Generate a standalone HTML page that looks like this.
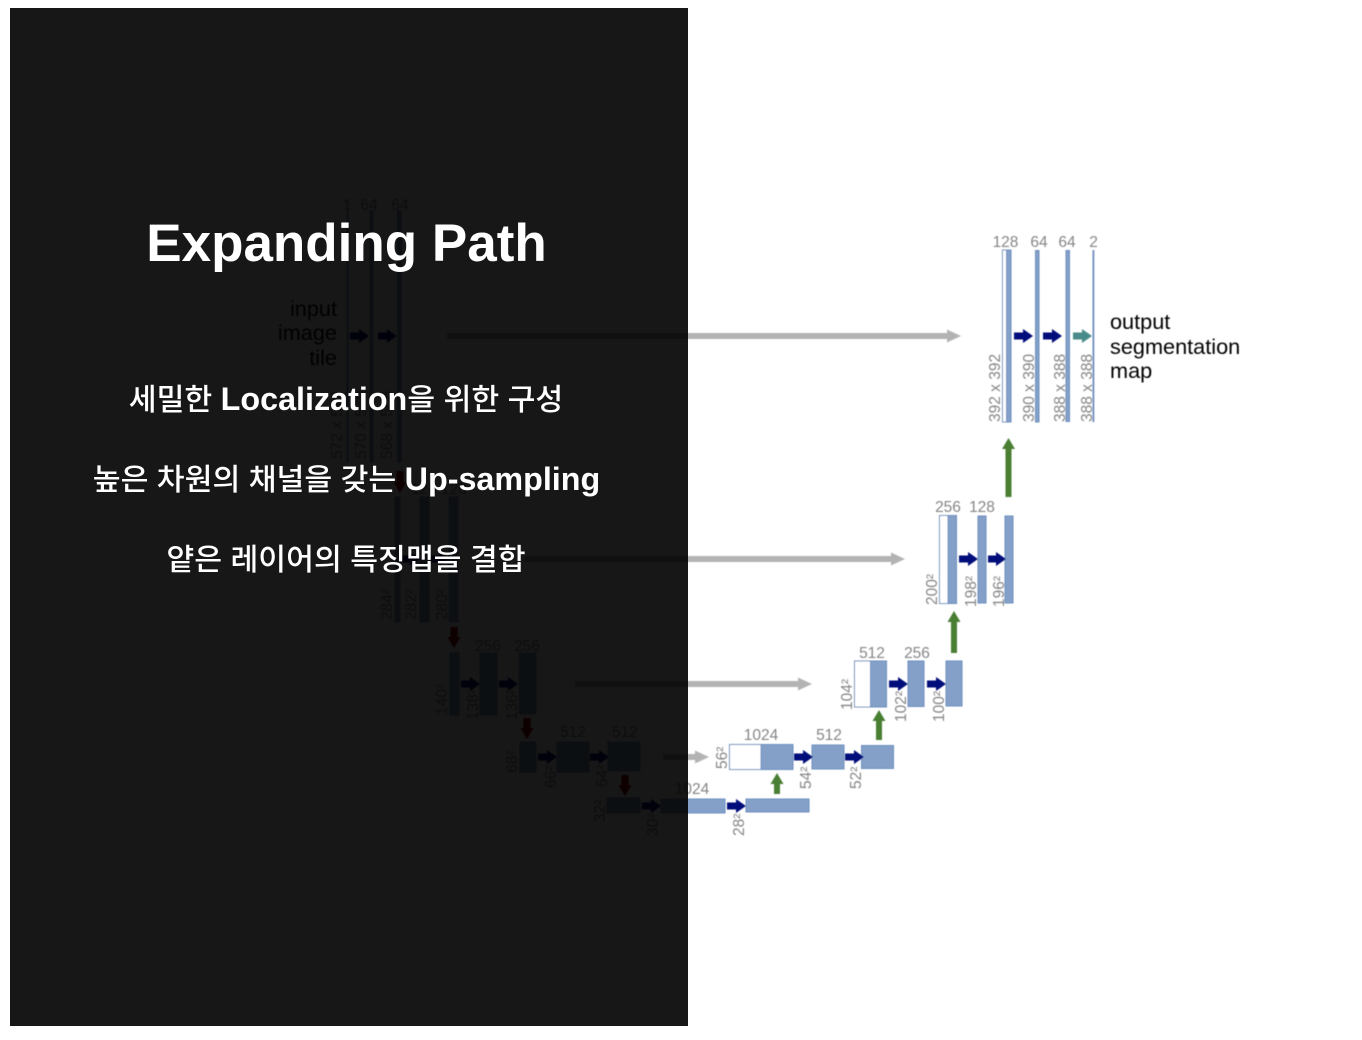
<!DOCTYPE html>
<html lang="ko">
<head>
<meta charset="utf-8">
<title>Expanding Path</title>
<style>
html,body{margin:0;padding:0;background:#fff;width:1362px;height:1040px;overflow:hidden}
svg{display:block;font-family:"Liberation Sans","Noto Sans CJK KR",sans-serif}
.b{fill:#84a0c9;stroke:#6d8dbe;stroke-width:1}
.w{fill:#fff;stroke:#6d8dbe;stroke-width:1}
.d{stroke-dasharray:2 2;stroke:#3f5f99}
.n{font-size:15.5px;fill:#858585;text-anchor:middle}
.r{font-size:15.5px;fill:#858585;text-anchor:start}
.k{font-size:21.7px;fill:#000}
.navy{stroke:#000a7a;stroke-width:7}
.green{stroke:#4a7f32;stroke-width:6}
.grey{stroke:#b3b3b3;stroke-width:6}
.red{stroke:#a00000;stroke-width:7}
.teal{stroke:#4a8a8a;stroke-width:7}
.h2{font-weight:500;font-size:30.25px;fill:#fff;text-anchor:middle}
.lat{font-weight:700;font-size:32.3px}
</style>
</head>
<body>
<svg width="1362" height="1040" viewBox="0 0 1362 1040" xmlns="http://www.w3.org/2000/svg">
<defs>
<marker id="hn" markerUnits="userSpaceOnUse" markerWidth="10" markerHeight="14" refX="0" refY="7" orient="auto"><path d="M0 0L10 7L0 14z" fill="#000a7a"/></marker>
<marker id="hg" markerUnits="userSpaceOnUse" markerWidth="11" markerHeight="14" refX="0" refY="7" orient="auto"><path d="M0 0.5L11 7L0 13.5z" fill="#4a7f32"/></marker>
<marker id="hy" markerUnits="userSpaceOnUse" markerWidth="14" markerHeight="14" refX="0" refY="7" orient="auto"><path d="M0 0.5L14 7L0 13.5z" fill="#b3b3b3"/></marker>
<marker id="hr" markerUnits="userSpaceOnUse" markerWidth="11" markerHeight="13" refX="0" refY="6.5" orient="auto"><path d="M0 0L11 6.5L0 13z" fill="#a00000"/></marker>
<marker id="ht" markerUnits="userSpaceOnUse" markerWidth="10" markerHeight="14" refX="0" refY="7" orient="auto"><path d="M0 0L10 7L0 14z" fill="#4a8a8a"/></marker>
<filter id="soft" x="0" y="0" width="100%" height="100%"><feGaussianBlur stdDeviation="0.6"/></filter>
</defs>

<g filter="url(#soft)">
  <!-- contracting path -->
  <g>
    <text class="n" x="347" y="210">1</text><text class="n" x="369" y="210">64</text><text class="n" x="400" y="210">64</text>
    <rect class="b" x="347" y="211" width="1" height="251"/><rect class="b" x="370" y="211" width="3" height="251"/><rect class="b d" x="397.5" y="211" width="4" height="251"/>
    <text class="k" x="337" y="316" text-anchor="end">input</text><text class="k" x="337" y="340" text-anchor="end">image</text><text class="k" x="337" y="365" text-anchor="end">tile</text>
    <line class="navy" x1="350" y1="336" x2="359" y2="336" marker-end="url(#hn)"/><line class="navy" x1="378" y1="336" x2="387" y2="336" marker-end="url(#hn)"/>
    <text class="r" transform="translate(342 459) rotate(-90)">572 x 572</text><text class="r" transform="translate(366 459) rotate(-90)">570 x 570</text><text class="r" transform="translate(392 459) rotate(-90)">568 x 568</text>
    <line class="red" x1="400" y1="471" x2="400" y2="482" marker-end="url(#hr)"/>
  </g>
  <g>
    <text class="n" x="424" y="494">128</text><text class="n" x="454" y="494">128</text>
    <rect class="b" x="395" y="497" width="5" height="125"/><rect class="b" x="420" y="497" width="9" height="125"/><rect class="b d" x="449" y="497" width="9" height="125"/>
    <line class="navy" x1="402" y1="559" x2="410" y2="559" marker-end="url(#hn)"/><line class="navy" x1="431" y1="559" x2="439" y2="559" marker-end="url(#hn)"/>
    <text class="r" transform="translate(392 620) rotate(-90)">284²</text><text class="r" transform="translate(416 620) rotate(-90)">282²</text><text class="r" transform="translate(447 620) rotate(-90)">280²</text>
    <line class="red" x1="454" y1="627" x2="454" y2="637" marker-end="url(#hr)"/>
  </g>
  <g>
    <text class="n" x="488" y="651">256</text><text class="n" x="527" y="651">256</text>
    <rect class="b" x="450" y="653" width="9" height="62"/><rect class="b" x="480" y="653" width="17" height="62"/><rect class="b d" x="519" y="653" width="17" height="61"/>
    <line class="navy" x1="461" y1="684" x2="470" y2="684" marker-end="url(#hn)"/><line class="navy" x1="499" y1="684" x2="508" y2="684" marker-end="url(#hn)"/>
    <text class="r" transform="translate(447 715) rotate(-90)">140²</text><text class="r" transform="translate(478 720) rotate(-90)">138²</text><text class="r" transform="translate(517 720) rotate(-90)">136²</text>
    <line class="red" x1="527" y1="718" x2="527" y2="728" marker-end="url(#hr)"/>
  </g>
  <g>
    <text class="n" x="573" y="737">512</text><text class="n" x="625" y="737">512</text>
    <rect class="b" x="520" y="742" width="16" height="30"/><rect class="b" x="557" y="742" width="32" height="30"/><rect class="b d" x="608" y="742" width="32" height="29"/>
    <line class="navy" x1="538" y1="757" x2="547" y2="757" marker-end="url(#hn)"/><line class="navy" x1="590" y1="757" x2="599" y2="757" marker-end="url(#hn)"/>
    <text class="r" transform="translate(517 773) rotate(-90)">68²</text><text class="r" transform="translate(556 788) rotate(-90)">66²</text><text class="r" transform="translate(607 787) rotate(-90)">64²</text>
    <line class="red" x1="625" y1="775" x2="625" y2="785" marker-end="url(#hr)"/>
  </g>
  <g>
    <text class="n" x="692" y="794">1024</text>
    <rect class="b" x="607" y="798" width="33" height="15"/><rect class="b" x="661" y="799" width="64" height="14"/><rect class="b" x="746" y="799" width="63" height="13"/>
    <line class="navy" x1="642" y1="806" x2="651" y2="806" marker-end="url(#hn)"/><line class="navy" x1="727" y1="806" x2="736" y2="806" marker-end="url(#hn)"/>
    <text class="r" transform="translate(605 822) rotate(-90)">32²</text><text class="r" transform="translate(658 836) rotate(-90)">30²</text><text class="r" transform="translate(744 836) rotate(-90)">28²</text>
  </g>

  <!-- skip connections -->
  <line class="grey" x1="447" y1="336" x2="947" y2="336" marker-end="url(#hy)"/>
  <line class="grey" x1="524" y1="559" x2="891" y2="559" marker-end="url(#hy)"/>
  <line class="grey" x1="575" y1="684" x2="798" y2="684" marker-end="url(#hy)"/>
  <line class="grey" x1="663" y1="757" x2="695" y2="757" marker-end="url(#hy)"/>

  <!-- expanding path -->
  <g>
    <line class="green" x1="777" y1="794" x2="777" y2="784" marker-end="url(#hg)"/>
    <text class="n" x="761" y="740">1024</text><text class="n" x="829" y="740">512</text>
    <rect class="w" x="729.5" y="744.5" width="32" height="25"/><rect class="b" x="761" y="744.5" width="32" height="25"/>
    <rect class="b" x="812" y="745" width="32" height="24"/><rect class="b" x="861.5" y="745.5" width="32" height="23"/>
    <line class="navy" x1="794" y1="757" x2="803" y2="757" marker-end="url(#hn)"/><line class="navy" x1="845" y1="757" x2="854" y2="757" marker-end="url(#hn)"/>
    <text class="r" transform="translate(727 769) rotate(-90)">56²</text><text class="r" transform="translate(811 789) rotate(-90)">54²</text><text class="r" transform="translate(861 789) rotate(-90)">52²</text>
  </g>
  <g>
    <line class="green" x1="879" y1="740" x2="879" y2="721" marker-end="url(#hg)"/>
    <text class="n" x="872" y="658">512</text><text class="n" x="917" y="658">256</text>
    <rect class="w" x="854.5" y="661" width="16" height="46"/><rect class="b" x="870.5" y="661" width="16" height="46"/>
    <rect class="b" x="908" y="661" width="16" height="45.5"/><rect class="b" x="946" y="661" width="16" height="45"/>
    <line class="navy" x1="889" y1="684" x2="898" y2="684" marker-end="url(#hn)"/><line class="navy" x1="927" y1="684" x2="936" y2="684" marker-end="url(#hn)"/>
    <text class="r" transform="translate(852 710) rotate(-90)">104²</text><text class="r" transform="translate(906 722) rotate(-90)">102²</text><text class="r" transform="translate(944 722) rotate(-90)">100²</text>
  </g>
  <g>
    <line class="green" x1="954" y1="653" x2="954" y2="622" marker-end="url(#hg)"/>
    <text class="n" x="948" y="512">256</text><text class="n" x="982" y="512">128</text>
    <rect class="w" x="939.5" y="515.5" width="8.5" height="88"/><rect class="b" x="948" y="515.5" width="8.5" height="88"/>
    <rect class="b" x="978" y="516" width="8" height="87"/><rect class="b" x="1005" y="516" width="8" height="87"/>
    <line class="navy" x1="959" y1="559" x2="968" y2="559" marker-end="url(#hn)"/><line class="navy" x1="988" y1="559" x2="996" y2="559" marker-end="url(#hn)"/>
    <text class="r" transform="translate(937 605) rotate(-90)">200²</text><text class="r" transform="translate(976 607) rotate(-90)">198²</text><text class="r" transform="translate(1004 607) rotate(-90)">196²</text>
  </g>
  <g>
    <line class="green" x1="1008.5" y1="497" x2="1008.5" y2="449" marker-end="url(#hg)"/>
    <text class="n" x="1005.5" y="247">128</text><text class="n" x="1039" y="247">64</text><text class="n" x="1067" y="247">64</text><text class="n" x="1093.5" y="247">2</text>
    <rect class="w" x="1002.5" y="250" width="4" height="172"/><rect class="b" x="1006.5" y="250" width="4.5" height="172"/>
    <rect class="b" x="1035.5" y="250.5" width="3.5" height="171.5"/><rect class="b" x="1066" y="250.5" width="3.5" height="171"/>
    <rect class="b" x="1093" y="250.5" width="0.8" height="171"/>
    <line class="navy" x1="1014" y1="336" x2="1023" y2="336" marker-end="url(#hn)"/><line class="navy" x1="1043" y1="336" x2="1052" y2="336" marker-end="url(#hn)"/>
    <line class="teal" x1="1073" y1="336" x2="1082" y2="336" marker-end="url(#ht)"/>
    <text class="r" transform="translate(1000 422) rotate(-90)">392 x 392</text><text class="r" transform="translate(1034 422) rotate(-90)">390 x 390</text><text class="r" transform="translate(1065 422) rotate(-90)">388 x 388</text><text class="r" transform="translate(1092 422) rotate(-90)">388 x 388</text>
    <g><text class="k" x="1110" y="329">output</text><text class="k" x="1110" y="354">segmentation</text><text class="k" x="1110" y="378">map</text></g>
  </g>
</g>

<rect x="10" y="8" width="678" height="1018" fill="#000" fill-opacity="0.91"/>

<text x="346.5" y="261" text-anchor="middle" font-size="53" font-weight="700" fill="#fff">Expanding Path</text>
<text class="h2" x="346" y="410">세밀한 <tspan class="lat">Localization</tspan>을 위한 구성</text>
<text class="h2" x="346.5" y="490">높은 차원의 채널을 갖는 <tspan class="lat">Up-sampling</tspan></text>
<text class="h2" x="346" y="570">얕은 레이어의 특징맵을 결합</text>
</svg>
</body>
</html>
